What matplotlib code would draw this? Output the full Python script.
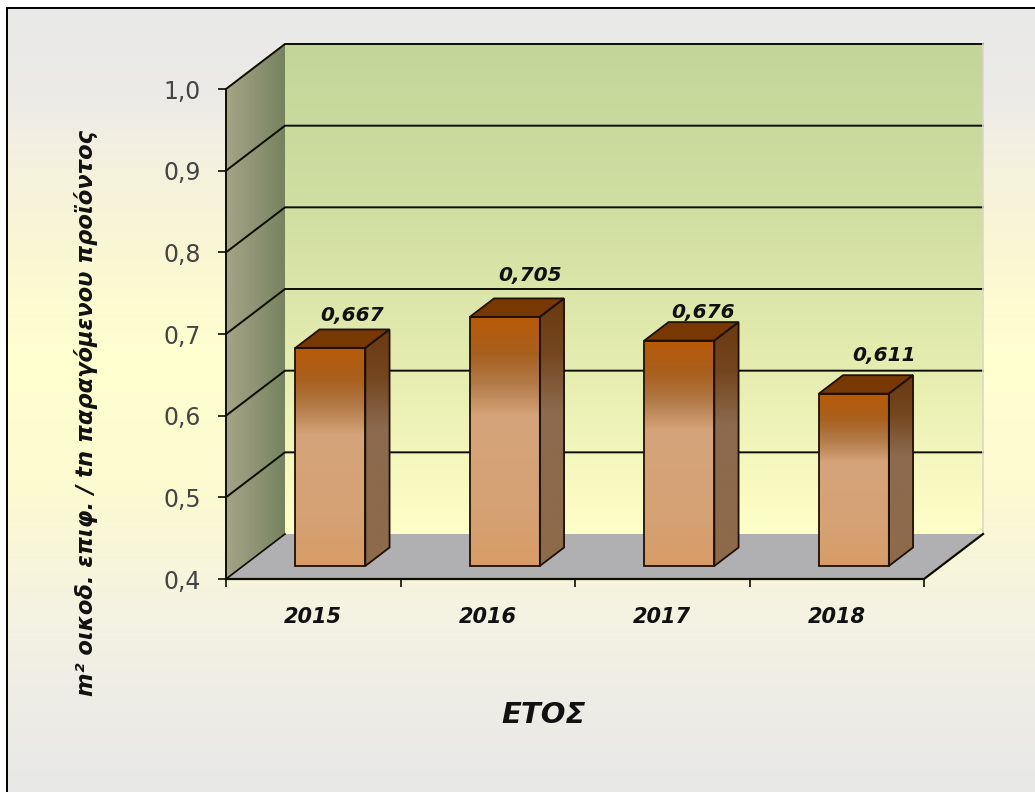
## Imports required libraries.
import numpy as np
import matplotlib
matplotlib.use('Agg')
import matplotlib.pyplot as plt
from matplotlib.colors import LinearSegmentedColormap
from matplotlib.patches import Polygon


## The chart's values.
years  = ['2015', '2016', '2017', '2018']
values = [0.667, 0.705, 0.676, 0.611]
value_labels = ['0,667', '0,705', '0,676', '0,611']
y_ticks = [0.4, 0.5, 0.6, 0.7, 0.8, 0.9, 1.0]
y_tick_labels = ['0,4', '0,5', '0,6', '0,7', '0,8', '0,9', '1,0']
y_title = 'm² οικοδ. επιφ. / tn παραγόμενου προϊόντος'
x_title = 'ΕΤΟΣ'

## Label offsets from the bar's back edge, in points.
label_shift = [(-2, 3.5), (1, 9.5), (0, 0), (4, 7)]

plt.rcParams['font.family'] = ['DejaVu Sans']

W, H = 1035, 792
fig = plt.figure( figsize = (W/100, H/100), dpi = 100, facecolor = 'white' )


## Makes a colormap from (position, colour) stops.
def ramp( stops ):
	return LinearSegmentedColormap.from_list( 'r', stops, N = 256 )


## Page background with its top and left border.
bg = fig.add_axes( [7/W, 0, 1 - 7/W, 1 - 8/H], zorder = 0 )
page = ramp( [(0, '#e9e9e9'), (0.12, '#ecebe7'), (0.17, '#f3efe2'), (0.30, '#f9f7d4'), (0.45, '#ffffcf'),
              (0.60, '#fdfbcf'), (0.76, '#f5f3e0'), (0.88, '#eeede6'), (1, '#e8e8e8')] )
bg.imshow( np.linspace(0, 1, 256)[:, None], cmap = page, aspect = 'auto', extent = (0, 1, 0, 1), vmin = 0, vmax = 1 )
bg.set_xticks([]); bg.set_yticks([])
for side in ['right', 'bottom']:
	bg.spines[side].set_visible(False)
for side in ['top', 'left']:
	bg.spines[side].set_linewidth(1.4)


## Main axes: the front plane of the 3D box.
ax = fig.add_axes( [226/W, 1 - 579/H, 698/W, 490/H], zorder = 1 )
ax.patch.set_visible(False)
ax.set_xlim(0, 4)
ax.set_ylim(0.4, 1.0)

depth_x = 59/174.5    # box depth in category units
depth_y = 45/816.7    # box depth in value units
line_col = '#0c0c00'


## Fills a polygon with a gradient. Direction 'v' runs top to bottom, 'h' left to right.
def shade( points, cmap, direction = 'v', z = 1 ):
	pts = np.array(points)
	x0, x1 = pts[:, 0].min(), pts[:, 0].max()
	y0, y1 = pts[:, 1].min(), pts[:, 1].max()
	g = np.linspace(0, 1, 256)
	g = g[:, None] if direction == 'v' else g[None, :]
	im = ax.imshow( g, cmap = cmap, aspect = 'auto', extent = (x0, x1, y0, y1), vmin = 0, vmax = 1, zorder = z )
	im.set_clip_box( fig.bbox )
	im.set_clip_path( Polygon( pts, transform = ax.transData ) )


top, bot = y_ticks[-1], y_ticks[0]

## Back wall, left wall and floor.
shade( [(depth_x, bot + depth_y), (4 + depth_x, bot + depth_y), (4 + depth_x, top + depth_y), (depth_x, top + depth_y)],
       ramp( ['#c3d699', '#d0dea2', '#e6edb0', '#ffffc9'] ) )
shade( [(0, bot), (depth_x, bot + depth_y), (depth_x, top + depth_y), (0, top)],
       ramp( ['#a5a487', '#8f9474', '#76825e'] ), 'h' )
ax.add_patch( Polygon( [(0, bot), (4, bot), (4 + depth_x, bot + depth_y), (depth_x, bot + depth_y)],
                       fc = '#b0b0b2', ec = 'none', zorder = 1.5, clip_on = False ) )

## Grid lines on the walls.
for v in y_ticks[1:]:
	ax.plot( [0, depth_x, 4 + depth_x], [v, v + depth_y, v + depth_y], color = line_col, lw = 1.4, zorder = 2, clip_on = False )
ax.plot( [4 + depth_x, 4 + depth_x], [bot + depth_y, top + depth_y], color = '#d8d8c8', lw = 1.2, zorder = 2, clip_on = False )
ax.plot( [0, 0], [bot, top], color = line_col, lw = 1.4, zorder = 2, clip_on = False )
ax.plot( [0, 4, 4 + depth_x], [bot, bot, bot + depth_y], color = line_col, lw = 1.6, zorder = 2, clip_on = False )
ax.plot( [0, depth_x], [bot, bot + depth_y], color = line_col, lw = 1.2, zorder = 2, clip_on = False )


## Bars, each with a front, side and top face.
bar_w   = 70/174.5
front_d = 0.29
back_d  = 0.70
front_map = ramp( [(0, '#b85a08'), (0.15, '#a9601f'), (0.27, '#b27a48'), (0.40, '#d5a47a'), (0.75, '#d5a276'), (1, '#d89c66')] )
side_map  = ramp( [(0, '#6a3a12'), (0.20, '#74461f'), (0.42, '#8c6a4e'), (1, '#8c6a4a')] )
edge = '#1f0f04'

for k, val in enumerate(values):
	x0 = k + 0.5 - bar_w/2 + front_d*depth_x
	x1 = x0 + bar_w
	y0 = bot + front_d*depth_y
	y1 = val + front_d*depth_y
	dx = (back_d - front_d)*depth_x
	dy = (back_d - front_d)*depth_y
	z  = 3 + k
	front = [(x0, y0), (x1, y0), (x1, y1), (x0, y1)]
	side  = [(x1, y0), (x1 + dx, y0 + dy), (x1 + dx, y1 + dy), (x1, y1)]
	roof  = [(x0, y1), (x1, y1), (x1 + dx, y1 + dy), (x0 + dx, y1 + dy)]
	shade( front, front_map, z = z )
	shade( side, side_map, z = z )
	ax.add_patch( Polygon( roof, fc = '#773804', ec = edge, lw = 1.3, zorder = z + 0.1, clip_on = False ) )
	ax.add_patch( Polygon( front, fc = 'none', ec = edge, lw = 1.3, zorder = z + 0.1, clip_on = False ) )
	ax.add_patch( Polygon( side, fc = 'none', ec = edge, lw = 1.3, zorder = z + 0.1, clip_on = False ) )
	ax.annotate( value_labels[k], xy = (x0 + bar_w/2 + dx, y1 + dy), xytext = label_shift[k], textcoords = 'offset points',
	             ha = 'center', va = 'bottom', fontsize = 14.5, fontweight = 'bold', fontstyle = 'italic', color = '#111111', zorder = 10 )

ax.set_xlim(0, 4)
ax.set_ylim(0.4, 1.0)


## Axes ticks and titles.
for side in ax.spines:
	ax.spines[side].set_visible(False)
ax.set_yticks( y_ticks, y_tick_labels )
ax.tick_params( axis = 'y', length = 6, width = 1.2, color = line_col, pad = 12, labelsize = 17, labelcolor = '#444444' )
ax.set_xticks( range(5), [] )
ax.set_xticks( [k + 0.5 for k in range(4)], years, minor = True )
ax.tick_params( axis = 'x', which = 'major', length = 6, width = 1.2, color = line_col )
ax.tick_params( axis = 'x', which = 'minor', length = 0, pad = 20, labelsize = 15 )
for t in ax.get_xticklabels( minor = True ):
	t.set_fontweight('bold'); t.set_fontstyle('italic'); t.set_color('#111111')

ax.set_xlabel( x_title, fontsize = 21, fontweight = 'bold', fontstyle = 'italic', color = '#111111' )
ax.xaxis.set_label_coords( 318/698, -122/490 )
ax.set_ylabel( y_title, fontsize = 16.3, fontweight = 'bold', fontstyle = 'italic', color = '#111111' )
ax.yaxis.set_label_coords( -128/698, 0.5 - 79/490 )

fig.savefig('out.png', dpi = 100)
